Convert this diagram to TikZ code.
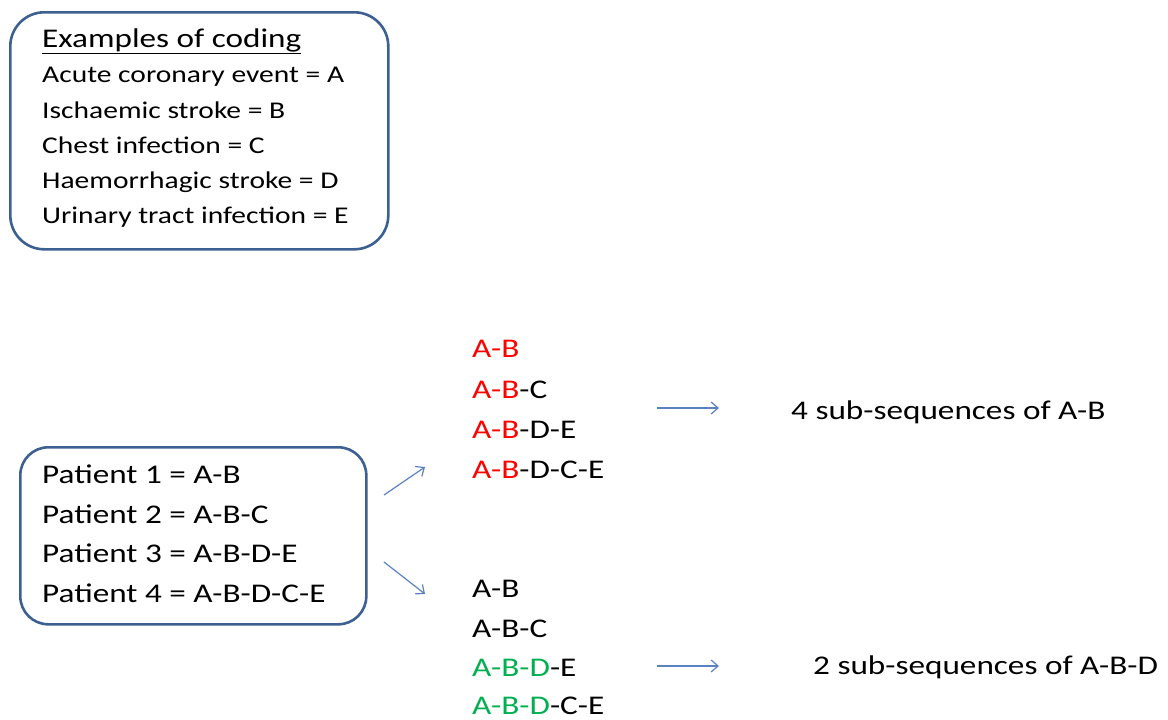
\documentclass[tikz,border=0pt]{standalone}
\usepackage{fontspec}
\setmainfont[FakeStretch=1.23]{Carlito}
\usetikzlibrary{arrows.meta}
\definecolor{boxblue}{RGB}{60,96,146}
\definecolor{arrblue}{RGB}{90,130,195}
\definecolor{seqred}{RGB}{255,0,0}
\definecolor{seqgreen}{RGB}{0,176,80}
\tikzset{
  panel/.style={draw=boxblue, line width=2.6pt, rounded corners=34pt, anchor=north west, inner sep=0pt},
  txt/.style={anchor=base west, inner sep=0pt, font=\fontsize{27}{32}\selectfont},
  small/.style={anchor=base west, inner sep=0pt, font=\fontsize{24}{29}\selectfont},
  conn/.style={draw=arrblue, line width=1.2pt, -{Straight Barb[length=7pt,width=12pt]}},
}
\newcommand{\R}[1]{\textcolor{seqred}{#1}}
\newcommand{\G}[1]{\textcolor{seqgreen}{#1}}
\begin{document}
\begin{tikzpicture}[x=1pt,y=-1pt]
\useasboundingbox (0,0) rectangle (1168,720);
% top coding box
\node[panel, minimum width=378pt, minimum height=237pt] (codebox) at (9,11) {};
\node[anchor=base west, inner sep=0pt, font=\fontsize{27}{32}\selectfont] (title) at (42,47) {\underline{Examples of coding}};
\node[small] (c1) at (42,82) {Acute coronary event = A};
\node[small] (c2) at (42,118) {Ischaemic stroke = B};
\node[small] (c3) at (42,153) {Chest infection = C};
\node[small] (c4) at (42,188) {Haemorrhagic stroke = D};
\node[small] (c5) at (42,223) {Urinary tract infection = E};
% patient box
\node[panel, rounded corners=28pt, minimum width=346pt, minimum height=177pt] (patbox) at (19,446) {};
\node[txt] (p1) at (42,483) {Patient 1 = A-B};
\node[txt] (p2) at (42,523) {Patient 2 = A-B-C};
\node[txt] (p3) at (42,562) {Patient 3 = A-B-D-E};
\node[txt] (p4) at (42,602) {Patient 4 = A-B-D-C-E};
% top sequences
\node[txt] (s1) at (472,357) {\R{A-B}};
\node[txt] (s2) at (472,398) {\R{A-B}-C};
\node[txt] (s3) at (472,438) {\R{A-B}-D-E};
\node[txt] (s4) at (472,478) {\R{A-B}-D-C-E};
% bottom sequences
\node[txt] (t1) at (472,597) {A-B};
\node[txt] (t2) at (472,637) {A-B-C};
\node[txt] (t3) at (472,676) {\G{A-B-D}-E};
\node[txt] (t4) at (472,714) {\G{A-B-D}-C-E};
% results
\node[txt] (r1) at (791,419) {4 sub-sequences of A-B};
\node[txt] (r2) at (813,674) {2 sub-sequences of A-B-D};
% connectors
\coordinate (a1s) at (384,495);
\coordinate (a1e) at (425,467);
\coordinate (a2s) at (384,562);
\coordinate (a2e) at (425,594);
\coordinate (h1s) at (657,408);
\coordinate (h1e) at (719,408);
\coordinate (h2s) at (657,666);
\coordinate (h2e) at (719,666);
\draw[conn] (a1s) -- (a1e);
\draw[conn] (a2s) -- (a2e);
\draw[conn] (h1s) -- (h1e);
\draw[conn] (h2s) -- (h2e);
\end{tikzpicture}
\end{document}
